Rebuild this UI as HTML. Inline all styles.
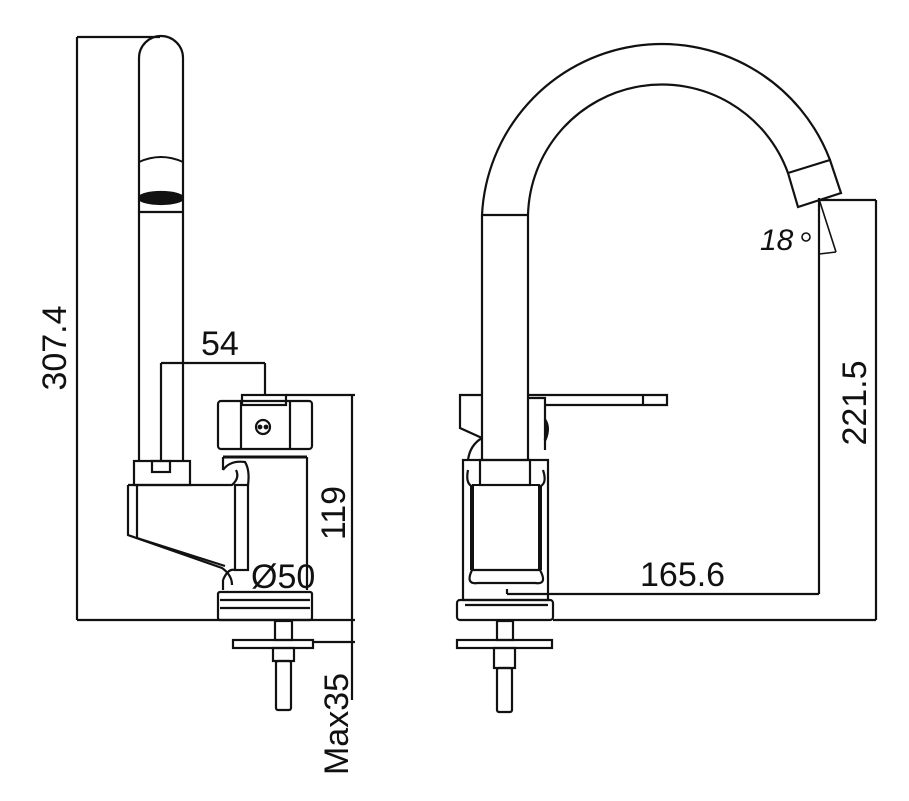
<!DOCTYPE html>
<html><head><meta charset="utf-8"><style>
html,body{margin:0;padding:0;background:#fff;}
svg{display:block;}
text{font-family:"Liberation Sans",sans-serif;fill:#111;}
</style></head><body>
<svg width="909" height="801" viewBox="0 0 909 801" xmlns="http://www.w3.org/2000/svg">
<g fill="none" stroke="#111" stroke-width="2.2">
<!-- LEFT VIEW -->
<!-- dim 307.4 -->
<line x1="77" y1="37" x2="77" y2="620"/>
<line x1="77" y1="37" x2="160" y2="37"/>
<line x1="77" y1="620" x2="355" y2="620"/>
<!-- spout -->
<path d="M139 460 V58 A22 22 0 0 1 183 58 V460"/>
<path d="M139 162 Q161 152 183 162" stroke-width="2"/>
<ellipse cx="161" cy="198" rx="22" ry="6" fill="#111"/>
<line x1="139" y1="212" x2="183" y2="212"/>
<!-- collar -->
<rect x="134" y="461" width="56" height="24"/>
<rect x="152" y="461" width="18" height="11"/>
<!-- arm -->
<path d="M128 485 H232 Q240 478 236 470"/>
<path d="M128 485 V535 L222 568 Q232 575 232 585"/>
<line x1="137" y1="485" x2="137" y2="538"/>
<path d="M137 538 L225 566"/>
<rect x="235" y="485" width="13" height="85"/>
<path d="M223 470 Q230 460 245 462 Q250 470 248 485"/>
<path d="M223 580 Q228 568 235 570"/>
<!-- body -->
<line x1="223" y1="457" x2="223" y2="470"/>
<line x1="223" y1="580" x2="223" y2="590"/>
<line x1="307" y1="457" x2="307" y2="590"/>
<line x1="223" y1="457" x2="307" y2="457" stroke-width="3"/>
<!-- handle -->
<rect x="218" y="401" width="94" height="48" rx="3"/>
<line x1="241" y1="401" x2="241" y2="449"/>
<line x1="290" y1="401" x2="290" y2="449"/>
<rect x="242" y="395" width="44" height="10"/>
<circle cx="263" cy="427" r="7"/>
<circle cx="260" cy="427" r="1.3" fill="#111"/>
<circle cx="266" cy="427" r="1.3" fill="#111"/>
<!-- base -->
<rect x="218" y="592" width="94" height="28" rx="2"/>
<line x1="220" y1="600" x2="310" y2="600"/>
<line x1="220" y1="608" x2="310" y2="608"/>
<!-- stud -->
<rect x="275" y="621" width="17" height="19"/>
<rect x="233" y="640" width="80" height="8"/>
<rect x="273" y="648" width="21" height="13"/>
<rect x="276" y="661" width="15" height="49" rx="2"/>
<!-- dim 54 -->
<line x1="161" y1="363" x2="265" y2="363"/>
<line x1="161" y1="363" x2="161" y2="460"/>
<line x1="265" y1="363" x2="265" y2="395"/>
<!-- dim 119 / max35 -->
<line x1="352" y1="395" x2="352" y2="700"/>
<line x1="286" y1="395" x2="355" y2="395"/>
<line x1="313" y1="642" x2="355" y2="642"/>

<!-- RIGHT VIEW -->
<path d="M482 460 V215 A180 180 0 0 1 830 160"/>
<path d="M528 460 V215 A134 134 0 0 1 788 173"/>
<line x1="482" y1="215" x2="528" y2="215"/>
<path d="M788 173 L830 160 L841 193 L798 207 Z"/>
<!-- angle -->
<line x1="819" y1="198" x2="819" y2="594"/>
<line x1="819" y1="200" x2="876" y2="200"/>
<line x1="876" y1="200" x2="876" y2="620"/>
<line x1="819" y1="199" x2="836" y2="252" stroke-width="1.6"/>
<path d="M819 254 Q828 253 836 252" stroke-width="1.6"/>
<!-- lever -->
<path d="M528 395 H667 V405 H545"/>
<line x1="643" y1="395" x2="643" y2="405"/>
<path d="M482 395 H460 V428 L482 438"/>
<path d="M528 398 H545 V450"/>
<path d="M482 438 Q470 445 468 460" />
<path d="M545 420 Q550 428 545 440" stroke-width="3"/>
<!-- body -->
<rect x="463" y="460" width="85" height="140"/>
<rect x="480" y="460" width="50" height="25"/>
<line x1="472" y1="485" x2="472" y2="570" stroke-width="4"/>
<line x1="540" y1="485" x2="540" y2="570" stroke-width="4"/>
<line x1="472" y1="485" x2="540" y2="485" stroke-width="2"/>
<path d="M468 470 Q465 485 474 487"/>
<path d="M543 470 Q548 485 538 487"/>
<path d="M472 570 H540 Q548 585 535 583 H478 Q465 585 472 570"/>
<!-- base -->
<rect x="457" y="600" width="96" height="20" rx="3"/>
<line x1="465" y1="605" x2="548" y2="605"/>
<rect x="497" y="621" width="16" height="19"/>
<rect x="457" y="640" width="95" height="8"/>
<rect x="494" y="648" width="21" height="20"/>
<rect x="497" y="668" width="15" height="44" rx="2"/>
<!-- dims -->
<line x1="507" y1="594" x2="819" y2="594"/>
<line x1="507" y1="589" x2="507" y2="594"/>
<line x1="553" y1="620" x2="876" y2="620"/>
</g>
<g font-size="34">
<text x="201" y="355">54</text>
<text x="251" y="588">Ø50</text>
<text x="640" y="586">165.6</text>
<text transform="translate(66 348) rotate(-90)" text-anchor="middle">307.4</text>
<text transform="translate(345 513) rotate(-90)" text-anchor="middle">119</text>
<text transform="translate(348 724) rotate(-90)" text-anchor="middle">Max35</text>
<text transform="translate(866 403) rotate(-90)" text-anchor="middle">221.5</text>
<text x="760" y="250" font-style="italic" font-size="30">18</text>
<circle cx="806" cy="237" r="4" fill="none" stroke="#111" stroke-width="1.6"/>
</g>
</svg>
</body></html>
